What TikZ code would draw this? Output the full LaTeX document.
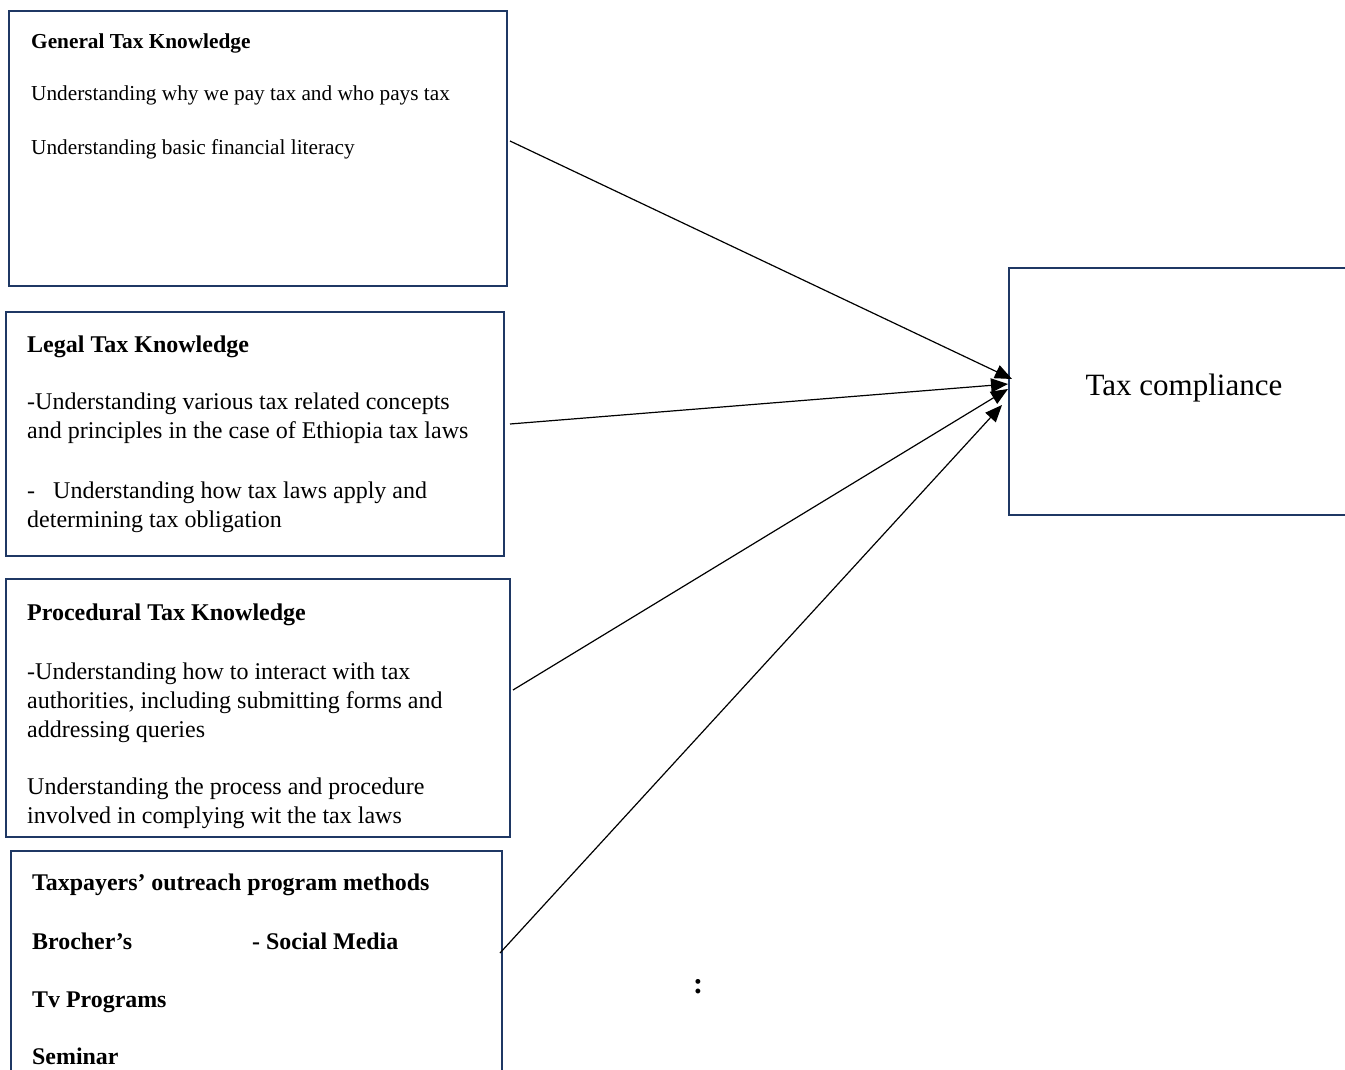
\documentclass[tikz,border=0pt]{standalone}
\usepackage{fontspec}
\setmainfont{Liberation Serif}
\usetikzlibrary{arrows.meta,positioning}
\definecolor{cnavy}{RGB}{31,56,100}

\begin{document}
\begin{tikzpicture}[x=1pt,y=-1pt,>={Triangle[length=17pt,width=14pt]},
  factor node/.style={rectangle,draw=cnavy,line width=2.7pt,inner sep=0pt,outer sep=0pt},
  text node/.style={anchor=base west,align=left,inner sep=0pt},
  outcome node/.style={rectangle,draw=cnavy,line width=2.7pt,inner sep=0pt,outer sep=0pt,
    font=\fontsize{31}{36}\selectfont}]
  \useasboundingbox (0,0) rectangle (1345,1070);

  % the four knowledge boxes
  \node[factor node,minimum width=498pt,minimum height=275pt] (general) at (258,148.5) {};
  \node[factor node,minimum width=498pt,minimum height=244pt] (legal) at (255,434) {};
  \node[factor node,minimum width=504pt,minimum height=258pt] (procedural) at (258,708) {};
  \node[factor node,minimum width=491pt,minimum height=239pt] (outreach) at (256.5,970.5) {};
  \node[outcome node,minimum width=350pt,minimum height=247pt] (compliance) at (1184,391.5)
    {\raisebox{3pt}[\height][\depth]{Tax compliance}};

  % texts (anchored at the baseline of their last line)
  \node[text node,font=\fontsize{21.3}{26}\selectfont] (generaltxt) at ([shift={(22,144)}]general.north west)
    {\textbf{General Tax Knowledge}\\[26pt]
     Understanding why we pay tax and who pays tax\\[28pt]
     Understanding basic financial literacy};
  \node[text node,font=\fontsize{24}{29}\selectfont] (legaltxt) at ([shift={(21,215)}]legal.north west)
    {\textbf{Legal Tax Knowledge}\\[28pt]
     -Understanding various tax related concepts\\
     and principles in the case of Ethiopia tax laws\\[31pt]
     -\hspace*{18pt}Understanding how tax laws apply and\\
     determining tax obligation};
  \node[text node,font=\fontsize{24}{29}\selectfont] (proceduraltxt) at ([shift={(21,244)}]procedural.north west)
    {\textbf{Procedural Tax Knowledge}\\[30pt]
     -Understanding how to interact with tax\\
     authorities, including submitting forms and\\
     addressing queries\\[28pt]
     Understanding the process and procedure\\
     involved in complying wit the tax laws};
  \node[text node,font=\fontsize{23.9}{29}\selectfont\bfseries] (outreachtxt) at ([shift={(21,213)}]outreach.north west)
    {Taxpayers’ outreach program methods\\[30pt]
     \makebox[220pt][l]{Brocher’s}- Social Media\\[29pt]
     Tv Programs\\[28pt]
     Seminar};

  \node[anchor=base,inner sep=0pt,font=\fontsize{30}{34}\selectfont\bfseries] (colon) at (698,993) {:};

  \path[->,line width=1.2pt]
    ([shift={(3,-7.5)}]general.east) edge ([shift={(3,-12.5)}]compliance.west)
    ([shift={(6,-10)}]legal.east) edge ([shift={(-1,-7.5)}]compliance.west)
    ([shift={(3,-18)}]procedural.east) edge ([shift={(-1,-2.5)}]compliance.west)
    ([shift={(-2,-17.5)}]outreach.east) edge ([shift={(-7,13.5)}]compliance.west);
\end{tikzpicture}
\end{document}
